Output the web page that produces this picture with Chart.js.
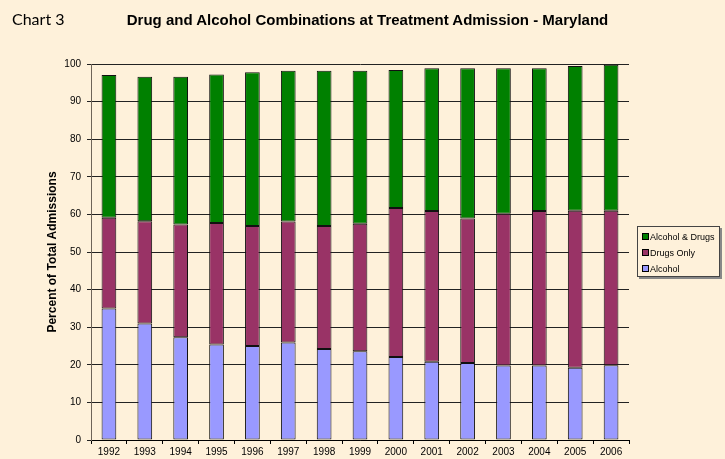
<!DOCTYPE html>
<html>
<head>
<meta charset="utf-8">
<script src="https://cdn.jsdelivr.net/npm/chart.js@4"></script>
<style>
  html, body { margin: 0; padding: 0; background: #fef1da; }
  #wrap { position: relative; width: 725px; height: 459px; }
  #chartLabel { position: absolute; left: 12px; top: 9px; font: 16px Lato, sans-serif; color: #000; }
  #chartTitle { position: absolute; left: 0; width: 735px; top: 11px; text-align: center;
    font: bold 15px "Liberation Sans", Arial, sans-serif; color: #000; }
  #legend { position: absolute; left: 637px; top: 226px; width: 81px; height: 49px;
    border: 1px solid #444; box-shadow: 2px 2px 0 #888; font: 9px "Liberation Sans", Arial, sans-serif; }
  #legend div { position: absolute; left: 4px; white-space: nowrap; }
  #legend span { display: inline-block; width: 5px; height: 5px; border: 1px solid #000; margin-right: 1px; vertical-align: 0px; }
</style>
</head>
<body>
<div id="wrap">
  <canvas id="drugChart" width="725" height="459"></canvas>
  <div id="chartLabel">Chart 3</div>
  <div id="chartTitle">Drug and Alcohol Combinations at Treatment Admission - Maryland</div>
  <div id="legend"></div>
</div>
<script>
const years = ['1992','1993','1994','1995','1996','1997','1998','1999','2000','2001','2002','2003','2004','2005','2006'];
const alcohol = [35.0, 31.0, 27.3, 25.4, 25.0, 25.9, 24.2, 23.6, 22.1, 20.8, 20.5, 19.8, 19.8, 19.2, 19.9];
const drugsOnly = [24.1, 27.2, 30.0, 32.3, 31.9, 32.2, 32.7, 33.9, 39.6, 40.1, 38.4, 40.4, 41.1, 41.8, 41.1];
const alcoholAndDrugs = [38.0, 38.4, 39.3, 39.5, 40.9, 40.1, 41.3, 40.7, 36.7, 38.0, 40.0, 38.7, 38.0, 38.5, 38.8];
const yTicks = [0, 10, 20, 30, 40, 50, 60, 70, 80, 90, 100];

const seriesNames = ['Alcohol', 'Drugs Only', 'Alcohol & Drugs'];
const seriesColors = ['#9999ff', '#993366', '#008000'];

const ctx = document.getElementById('drugChart');

new Chart(ctx, {
    type: 'bar',
    data: {
        labels: years,
        datasets: [alcohol, drugsOnly, alcoholAndDrugs].map((vals, i) => ({
            label: seriesNames[i],
            data: vals,
            backgroundColor: seriesColors[i],
            borderColor: '#111',
            borderWidth: 1,
            borderSkipped: false,
            barPercentage: 0.41,
            categoryPercentage: 1
        }))
    },
    options: {
        responsive: false,
        animation: false,
        layout: { padding: { left: 45, right: 96, top: 64, bottom: 0 } },
        plugins: {
            legend: { display: false },
            tooltip: { enabled: false }
        },
        scales: {
            x: {
                stacked: true,
                grid: { drawOnChartArea: false, drawTicks: true, tickLength: 4, offset: true, color: '#000' },
                border: { color: '#000' },
                ticks: { color: '#000', font: { family: 'Liberation Sans', size: 10 }, padding: 2, maxRotation: 0 },
                afterFit: s => { s.height = 19; }
            },
            y: {
                stacked: true,
                min: 0,
                max: 100,
                afterBuildTicks: s => { s.ticks = yTicks.map(v => ({ value: v })); },
                grid: { color: '#222', tickLength: 4 },
                border: { color: '#6e6458' },
                ticks: { color: '#000', font: { family: 'Liberation Sans', size: 10 }, padding: 6 },
                title: { display: true, text: 'Percent of Total Admissions', color: '#000',
                    font: { family: 'Liberation Sans', size: 12, weight: 'bold' }, padding: 0 },
                afterFit: s => { s.width = 46; }
            }
        }
    }
});

const legend = document.getElementById('legend');
[2, 1, 0].forEach((k, row) => {
    const item = document.createElement('div');
    item.style.top = (5 + row * 16) + 'px';
    item.innerHTML = '<span style="background:' + seriesColors[k] + '"></span>' + seriesNames[k];
    legend.appendChild(item);
});
</script>
</body>
</html>
